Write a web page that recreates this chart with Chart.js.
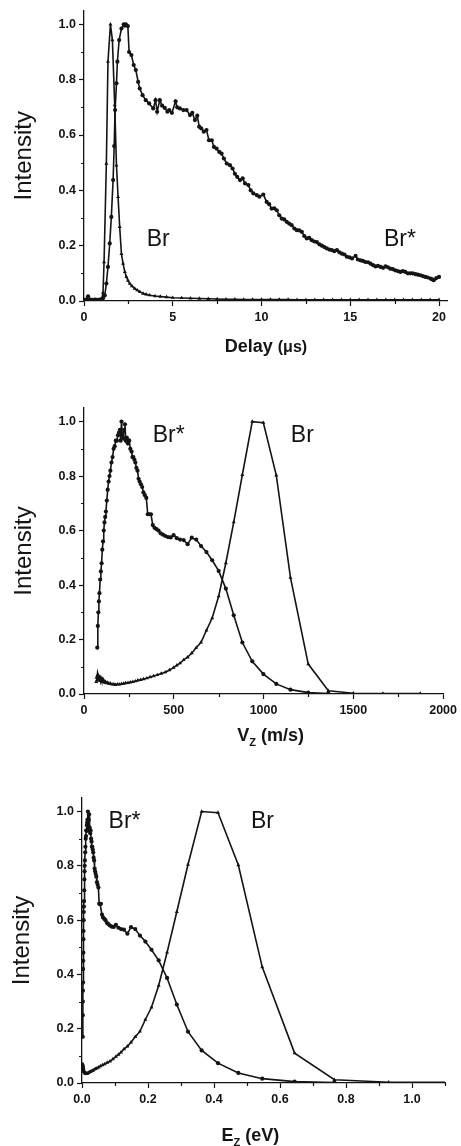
<!DOCTYPE html>
<html>
<head>
<meta charset="utf-8">
<title>Br / Br* distributions</title>
<script src="https://cdn.jsdelivr.net/npm/chart.js@4.4.1/dist/chart.umd.min.js"></script>
<style>
  html, body { margin: 0; padding: 0; background: #fff; overflow: hidden; }
  #page { position: relative; width: 461px; height: 1146px; }
  #page canvas { position: absolute; left: 0; }
</style>
</head>
<body>
<div id="page">
  <canvas id="delay-chart" width="461" height="370" style="top:0"></canvas>
  <canvas id="vz-chart" width="461" height="385" style="top:370px"></canvas>
  <canvas id="ez-chart" width="461" height="391" style="top:755px"></canvas>
</div>
<script>
// --- Panel 1: arrival time profiles (delay in µs) ---
const delayBrX = [
  0, 0.2, 0.4, 0.6, 0.8, 0.9, 1.0, 1.07, 1.13, 1.26,
  1.35, 1.49, 1.6, 1.73, 1.83, 1.92, 2.01, 2.11, 2.2, 2.3,
  2.39, 2.48, 2.58, 2.7, 2.86, 3.0, 3.15, 3.33, 3.5, 3.7,
  4.0, 4.3, 4.65, 5.0, 5.5, 6.0, 6.5, 7.0, 7.5, 8.0,
  8.5, 9.0, 9.5, 10.0, 10.5, 11.0, 11.5, 12.0, 12.5, 13.0,
  13.5, 14.0, 14.5, 15.0, 15.5, 16.0, 16.5, 17.0, 17.5, 18.0,
  18.5, 19.0, 19.5, 20.0,
];
const delayBrY = [
  0.004, 0.004, 0.004, 0.005, 0.004, 0.005, 0.006, 0.03, 0.141, 0.497,
  0.865, 1.0, 0.943, 0.708, 0.49, 0.376, 0.268, 0.17, 0.135, 0.105,
  0.087, 0.074, 0.063, 0.054, 0.045, 0.039, 0.033, 0.027, 0.024, 0.021,
  0.018, 0.016, 0.014, 0.012, 0.011, 0.01, 0.009, 0.008, 0.007, 0.006,
  0.006, 0.005, 0.005, 0.005, 0.005, 0.005, 0.005, 0.004, 0.004, 0.004,
  0.004, 0.004, 0.004, 0.004, 0.004, 0.004, 0.004, 0.004, 0.004, 0.004,
  0.004, 0.004, 0.004, 0.004,
];
const delayBrStarX = [
  0, 0.12, 0.23, 0.35, 0.5, 0.65, 0.8, 0.95, 1.07, 1.17,
  1.26, 1.35, 1.45, 1.54, 1.64, 1.7, 1.75, 1.83, 1.88, 1.98,
  2.11, 2.24, 2.3, 2.36, 2.47, 2.54, 2.67, 2.8, 2.92, 3.05,
  3.14, 3.3, 3.48, 3.67, 3.9, 4.03, 4.12, 4.27, 4.4, 4.55,
  4.7, 4.8, 4.95, 5.16, 5.25, 5.4, 5.6, 5.78, 5.97, 6.1,
  6.25, 6.38, 6.49, 6.6, 6.75, 6.9, 7.04, 7.2, 7.32, 7.47,
  7.62, 7.75, 7.88, 8.04, 8.22, 8.37, 8.5, 8.63, 8.79, 8.94,
  9.07, 9.26, 9.39, 9.54, 9.73, 9.88, 10.1, 10.29, 10.43, 10.57,
  10.72, 10.86, 11.0, 11.14, 11.28, 11.42, 11.56, 11.7, 11.85, 11.99,
  12.13, 12.27, 12.41, 12.55, 12.69, 12.83, 12.97, 13.12, 13.26, 13.4,
  13.54, 13.68, 13.82, 13.96, 14.1, 14.25, 14.39, 14.53, 14.67, 14.81,
  14.95, 15.1, 15.3, 15.43, 15.57, 15.71, 15.85, 16.0, 16.14, 16.28,
  16.42, 16.56, 16.71, 16.85, 16.99, 17.12, 17.25, 17.4, 17.53, 17.68,
  17.82, 17.96, 18.1, 18.24, 18.38, 18.52, 18.67, 18.81, 18.95, 19.09,
  19.23, 19.37, 19.52, 19.62, 19.7, 19.85, 20.0,
];
const delayBrStarY = [
  0.004, 0.005, 0.017, 0.005, 0.004, 0.005, 0.004, 0.006, 0.01, 0.02,
  0.063, 0.123, 0.208, 0.304, 0.437, 0.56, 0.69, 0.787, 0.865, 0.943,
  0.985, 1.0, 0.995, 1.0, 0.994, 0.9, 0.889, 0.853, 0.835, 0.792,
  0.768, 0.744, 0.726, 0.714, 0.696, 0.726, 0.684, 0.726, 0.706, 0.698,
  0.684, 0.69, 0.68, 0.722, 0.7, 0.696, 0.69, 0.69, 0.672, 0.68,
  0.654, 0.67, 0.63, 0.624, 0.612, 0.618, 0.581, 0.581, 0.557, 0.551,
  0.539, 0.533, 0.515, 0.497, 0.491, 0.479, 0.46, 0.449, 0.437, 0.443,
  0.425, 0.419, 0.4, 0.389, 0.383, 0.377, 0.385, 0.358, 0.35, 0.334,
  0.335, 0.328, 0.31, 0.298, 0.295, 0.286, 0.28, 0.274, 0.262, 0.256,
  0.255, 0.25, 0.235, 0.226, 0.228, 0.22, 0.215, 0.213, 0.205, 0.2,
  0.195, 0.19, 0.186, 0.184, 0.18, 0.184, 0.176, 0.171, 0.168, 0.16,
  0.158, 0.154, 0.163, 0.15, 0.147, 0.145, 0.141, 0.14, 0.135, 0.13,
  0.125, 0.127, 0.123, 0.12, 0.125, 0.122, 0.117, 0.115, 0.111, 0.108,
  0.105, 0.108, 0.105, 0.1, 0.1, 0.1, 0.097, 0.095, 0.093, 0.09,
  0.087, 0.085, 0.081, 0.078, 0.075, 0.083, 0.087,
];

// --- Panel 2 and 3: velocity (m/s) and energy (eV) distributions ---
const vzBrX = [
  68, 70, 72, 74, 76, 78, 80, 83, 86, 89,
  92, 95, 98, 102, 106, 110, 115, 120, 126, 132,
  140, 148, 157, 166, 176, 187, 198, 209, 221, 232,
  245, 258, 272, 286, 300, 316, 332, 350, 368, 388,
  408, 430, 453, 476, 499, 517, 535, 555, 577, 600,
  625, 652, 682, 714, 750, 790, 834, 882, 937, 999,
  1071, 1150, 1249, 1361, 1500, 1665, 1873,
];
const ezBrX = [
  0.0019, 0.002, 0.0021, 0.0023, 0.0024, 0.0025, 0.0026, 0.0028, 0.0031, 0.0033,
  0.0035, 0.0037, 0.004, 0.0043, 0.0046, 0.005, 0.0055, 0.006, 0.0066, 0.0072,
  0.0081, 0.009, 0.0102, 0.0114, 0.0128, 0.0144, 0.0162, 0.018, 0.0202, 0.0222,
  0.0248, 0.0275, 0.0306, 0.0338, 0.0372, 0.0412, 0.0455, 0.0506, 0.0559, 0.0622,
  0.0688, 0.0764, 0.0848, 0.0936, 0.1028, 0.1104, 0.1182, 0.1272, 0.1375, 0.1487,
  0.1613, 0.1756, 0.1921, 0.2106, 0.2323, 0.2578, 0.2873, 0.3213, 0.3626, 0.4122,
  0.4737, 0.5462, 0.6443, 0.765, 0.9293, 1.145, 1.449,
];
// same Br intensities for both the Vz and the Ez panel
const brIntensity = [
  0.045, 0.06, 0.05, 0.068, 0.055, 0.07, 0.058, 0.065, 0.05, 0.062,
  0.048, 0.058, 0.05, 0.055, 0.045, 0.05, 0.042, 0.045, 0.04, 0.042,
  0.037, 0.038, 0.035, 0.036, 0.034, 0.036, 0.035, 0.037, 0.038, 0.04,
  0.041, 0.043, 0.045, 0.047, 0.05, 0.052, 0.055, 0.058, 0.062, 0.066,
  0.07, 0.075, 0.08, 0.088, 0.097, 0.105, 0.113, 0.125, 0.135, 0.15,
  0.17, 0.19, 0.234, 0.279, 0.359, 0.481, 0.631, 0.805, 1.0, 0.996,
  0.803, 0.427, 0.11, 0.012, 0.003, 0.002, 0.002,
];
const vzBrStarX = [
  74, 77, 80, 83, 86, 90, 94, 98, 102, 106,
  110, 114, 118, 122, 127, 132, 137, 142, 147, 153,
  159, 165, 171, 177, 183, 189, 195, 200, 204, 209,
  213, 218, 223, 228, 233, 239, 245, 252, 258, 265,
  270, 275, 281, 286, 292, 298, 304, 310, 317, 324,
  331, 339, 347, 355, 364, 373, 383, 393, 404, 415,
  427, 440, 453, 468, 483, 499, 517, 535, 555, 577,
  600, 625, 652, 682, 714, 750, 790, 834, 882, 937,
  999, 1071, 1150, 1249, 1361,
];
const ezBrStarX = [
  0.0023, 0.0024, 0.0026, 0.0028, 0.0031, 0.0033, 0.0037, 0.004, 0.0043, 0.0046,
  0.005, 0.0054, 0.0058, 0.0062, 0.0067, 0.0072, 0.0078, 0.0083, 0.0089, 0.0097,
  0.0104, 0.0112, 0.0121, 0.0129, 0.0138, 0.0148, 0.0157, 0.0165, 0.0172, 0.018,
  0.0187, 0.0196, 0.0205, 0.0215, 0.0224, 0.0236, 0.0248, 0.0262, 0.0275, 0.029,
  0.0301, 0.0312, 0.0326, 0.0338, 0.0352, 0.0367, 0.0382, 0.0397, 0.0415, 0.0434,
  0.0453, 0.0475, 0.0497, 0.052, 0.0547, 0.0575, 0.0606, 0.0638, 0.0674, 0.0711,
  0.0753, 0.08, 0.0848, 0.0905, 0.0964, 0.1028, 0.1104, 0.1182, 0.1272, 0.1375,
  0.1487, 0.1613, 0.1756, 0.1921, 0.2106, 0.2323, 0.2578, 0.2873, 0.3213, 0.3626,
  0.4122, 0.4737, 0.5462, 0.6443, 0.765,
];
const brStarIntensity = [
  0.17, 0.25, 0.3, 0.34, 0.37, 0.42, 0.45, 0.48, 0.53, 0.56,
  0.6, 0.63, 0.65, 0.67, 0.71, 0.75, 0.78, 0.8, 0.82, 0.85,
  0.87, 0.9, 0.91, 0.93, 0.93, 0.95, 0.96, 0.97, 0.93, 1.0,
  0.95, 0.94, 0.97, 0.99, 0.93, 0.94, 0.92, 0.93, 0.9, 0.89,
  0.87, 0.87, 0.86, 0.85, 0.83, 0.82, 0.79, 0.78, 0.77, 0.76,
  0.74, 0.73, 0.72, 0.66, 0.66, 0.66, 0.62, 0.61, 0.605, 0.6,
  0.59, 0.585, 0.58, 0.576, 0.575, 0.583, 0.572, 0.567, 0.565, 0.55,
  0.574, 0.567, 0.543, 0.521, 0.491, 0.452, 0.387, 0.289, 0.189, 0.12,
  0.073, 0.037, 0.016, 0.005, 0.002,
];

// --- Tick marks ---
const intensityMinorTicks = [0.1, 0.3, 0.5, 0.7, 0.9];
const delayMinorTicks = [2.5, 7.5, 12.5, 17.5];
const vzMinorTicks = [250, 750, 1250, 1750];
const ezMinorTicks = [0.1, 0.3, 0.5, 0.7, 0.9, 1.1];

const INK = '#141414';
const FONT = 'Arial, "Liberation Sans", Helvetica, sans-serif';

/**
 * Draws what Chart.js cannot: minor ticks, the Br / Br* tags and
 * the x-axis titles that mix font sizes and subscripts.
 * Config is captured in the closure so Chart.js does not proxy it.
 */
function makeDecor(cfg) {
  return {
    id: 'panelDecor',
    afterDraw(chart) {
      const { ctx, chartArea, scales } = chart;
      const xs = scales.x;
      const ys = scales.y;
      ctx.save();

      // minor ticks, outward
      ctx.strokeStyle = INK;
      ctx.lineWidth = 1.2;
      ctx.beginPath();
      cfg.minorX.forEach((v) => {
        const px = Math.round(xs.getPixelForValue(v)) + 0.5;
        ctx.moveTo(px, chartArea.bottom);
        ctx.lineTo(px, chartArea.bottom + 3);
      });
      cfg.minorY.forEach((v) => {
        const py = Math.round(ys.getPixelForValue(v)) + 0.5;
        ctx.moveTo(chartArea.left, py);
        ctx.lineTo(chartArea.left - 3, py);
      });
      ctx.stroke();

      // curve tags
      ctx.fillStyle = INK;
      ctx.textAlign = 'center';
      ctx.textBaseline = 'middle';
      ctx.font = `23px ${FONT}`;
      cfg.tags.forEach((t) => {
        ctx.fillText(t.text, xs.getPixelForValue(t.x), ys.getPixelForValue(t.y));
      });

      // x-axis title made of pieces
      const title = cfg.xTitle;
      ctx.textAlign = 'left';
      ctx.textBaseline = 'alphabetic';
      const fontOf = (p) => `bold ${p.size}px ${FONT}`;
      let total = 0;
      title.parts.forEach((p) => {
        ctx.font = fontOf(p);
        total += ctx.measureText(p.text).width;
      });
      let cursor = xs.getPixelForValue(title.center) - total / 2;
      const baseline = chartArea.bottom + title.below;
      title.parts.forEach((p) => {
        ctx.font = fontOf(p);
        ctx.fillText(p.text, cursor, baseline + (p.drop || 0));
        cursor += ctx.measureText(p.text).width;
      });
      ctx.restore();
    },
  };
}

/**
 * Builds {x, y} points from parallel arrays.
 */
function toPoints(xValues, yValues) {
  if (xValues.length !== yValues.length) {
    console.warn('length mismatch', xValues.length, yValues.length);
  }
  return xValues.map((x, i) => ({ x, y: yValues[i] }));
}

function brStarDataset(points) {
  return {
    label: 'Br*',
    data: points,
    showLine: true,
    borderColor: INK,
    backgroundColor: INK,
    borderWidth: 1.6,
    pointStyle: 'circle',
    pointRadius: 2.1,
    pointBorderWidth: 0,
    tension: 0,
  };
}

function brDataset(points) {
  return {
    label: 'Br',
    data: points,
    showLine: true,
    borderColor: INK,
    backgroundColor: INK,
    borderWidth: 1.6,
    pointStyle: 'triangle',
    pointRadius: 2.3,
    pointBorderWidth: 0,
    tension: 0,
  };
}

function tickFont() {
  return { family: FONT, size: 12.5, weight: 'bold' };
}

/**
 * Shared y axis: Intensity 0 – 1.05.
 */
function intensityAxis(boxWidth, titlePad) {
  return {
    type: 'linear',
    min: 0,
    max: 1.05,
    afterFit: (scale) => { scale.width = boxWidth; },
    border: { display: true, color: INK, width: 1.3 },
    grid: { drawOnChartArea: false, drawTicks: true, tickLength: 5, tickColor: INK, tickWidth: 1.2 },
    ticks: {
      stepSize: 0.2,
      includeBounds: false,
      padding: 3,
      color: INK,
      font: tickFont(),
      callback: (v) => Number(v).toFixed(1),
    },
    title: {
      display: true,
      text: 'Intensity',
      color: INK,
      font: { family: FONT, size: 24 },
      padding: { top: titlePad, bottom: 0 },
    },
  };
}

function bottomAxis(min, max, step, boxHeight, format) {
  return {
    type: 'linear',
    min,
    max,
    afterFit: (scale) => { scale.height = boxHeight; },
    border: { display: true, color: INK, width: 1.3 },
    grid: { drawOnChartArea: false, drawTicks: true, tickLength: 5, tickColor: INK, tickWidth: 1.2 },
    ticks: {
      stepSize: step,
      includeBounds: false,
      autoSkip: false,
      maxRotation: 0,
      padding: 4,
      color: INK,
      font: tickFont(),
      callback: format,
    },
  };
}

function makeChart(canvasId, datasets, scales, padding, decor) {
  const ctx = document.getElementById(canvasId).getContext('2d');
  return new Chart(ctx, {
    type: 'scatter',
    data: { datasets },
    options: {
      responsive: false,
      animation: false,
      devicePixelRatio: 1,
      layout: { padding },
      scales,
      plugins: {
        legend: { display: false },
        tooltip: { enabled: false },
      },
    },
    plugins: [makeDecor(decor)],
  });
}

function renderDelayPanel() {
  makeChart(
    'delay-chart',
    [brStarDataset(toPoints(delayBrStarX, delayBrStarY)), brDataset(toPoints(delayBrX, delayBrY))],
    {
      x: bottomAxis(0, 20.45, 5, 69, (v) => String(v)),
      y: intensityAxis(84, 10),
    },
    { top: 10, right: 14, bottom: 0, left: 0 },
    {
      minorX: delayMinorTicks,
      minorY: intensityMinorTicks,
      tags: [
        { text: 'Br', x: 4.18, y: 0.22 },
        { text: 'Br*', x: 17.8, y: 0.22 },
      ],
      xTitle: {
        center: 10.25,
        below: 51,
        parts: [
          { text: 'Delay ', size: 18 },
          { text: '(\u03BCs)', size: 16 },
        ],
      },
    }
  );
}

function renderVzPanel() {
  makeChart(
    'vz-chart',
    [brStarDataset(toPoints(vzBrStarX, brStarIntensity)), brDataset(toPoints(vzBrX, brIntensity))],
    {
      x: bottomAxis(0, 2000, 500, 61, (v) => String(v)),
      y: intensityAxis(84, 10),
    },
    { top: 38, right: 14, bottom: 0, left: 0 },
    {
      minorX: vzMinorTicks,
      minorY: intensityMinorTicks,
      tags: [
        { text: 'Br*', x: 472, y: 0.95 },
        { text: 'Br', x: 1216, y: 0.95 },
      ],
      xTitle: {
        center: 1039,
        below: 47,
        parts: [
          { text: 'V', size: 18 },
          { text: 'Z', size: 11, drop: 5 },
          { text: ' (m/s)', size: 18 },
        ],
      },
    }
  );
}

function renderEzPanel() {
  makeChart(
    'ez-chart',
    [brStarDataset(toPoints(ezBrStarX, brStarIntensity)), brDataset(toPoints(ezBrX, brIntensity))],
    {
      x: bottomAxis(0, 1.1, 0.2, 63, (v) => Number(v).toFixed(1)),
      y: intensityAxis(82, 8),
    },
    { top: 43, right: 16, bottom: 0, left: 0 },
    {
      minorX: ezMinorTicks,
      minorY: intensityMinorTicks,
      tags: [
        { text: 'Br*', x: 0.129, y: 0.962 },
        { text: 'Br', x: 0.547, y: 0.962 },
      ],
      xTitle: {
        center: 0.51,
        below: 58,
        parts: [
          { text: 'E', size: 18 },
          { text: 'Z', size: 11, drop: 5 },
          { text: ' (eV)', size: 18 },
        ],
      },
    }
  );
}

renderDelayPanel();
renderVzPanel();
renderEzPanel();
</script>
</body>
</html>
